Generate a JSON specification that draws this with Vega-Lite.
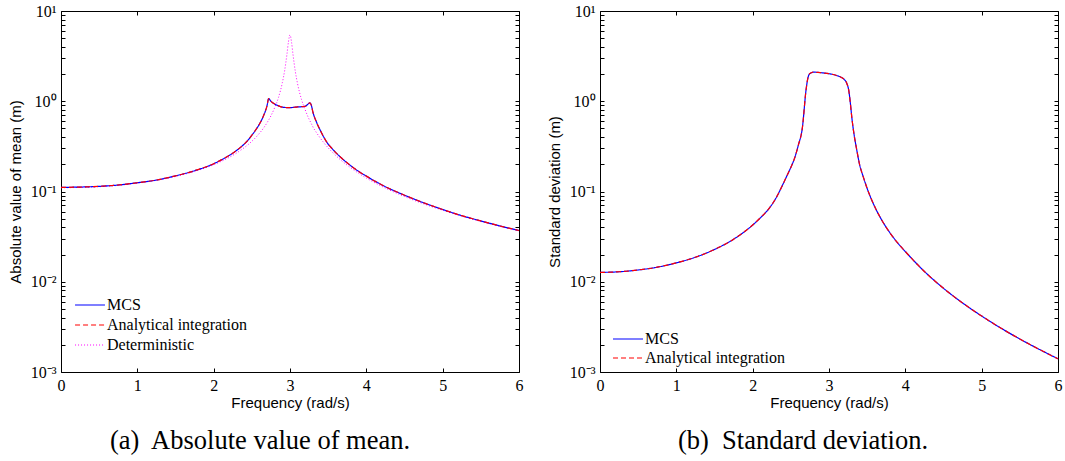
{
  "$schema": "https://vega.github.io/schema/vega-lite/v6.json",
  "padding": {"left": 7, "top": 2, "right": 4, "bottom": 2},
  "background": "white",
  "config": {
    "font": "Liberation Sans",
    "view": {"stroke": "black", "strokeWidth": 1},
    "axis": {
      "domain": false, "grid": false, "tickColor": "black", "tickSize": -4, "tickWidth": 1,
      "labelColor": "black", "labelFont": "Liberation Serif", "labelFontSize": 16,
      "titleColor": "black", "titleFont": "Liberation Sans", "titleFontSize": 15, "titleFontWeight": "normal",
      "labelOverlap": false, "labelFlush": false
    },
    "legend": {
      "orient": "none", "title": null, "symbolStrokeWidth": 1.2,
      "labelFont": "Liberation Serif", "labelFontSize": 16, "labelColor": "black",
      "padding": 0, "rowPadding": 0
    },
    "title": {"font": "Liberation Serif", "fontSize": 26.5, "fontWeight": "normal", "color": "black", "orient": "bottom", "anchor": "middle", "frame": "group"}
  },
  "resolve": {"scale": {"color": "independent", "strokeDash": "independent"}, "legend": {"color": "independent", "strokeDash": "independent"}},
  "datasets": {
    "mean": [
      {"f": 0, "MCS": 0.111, "Analytical integration": 0.111, "Deterministic": 0.110},
      {"f": 0.25, "MCS": 0.112, "Analytical integration": 0.112, "Deterministic": 0.111},
      {"f": 0.5, "MCS": 0.114, "Analytical integration": 0.114, "Deterministic": 0.113},
      {"f": 0.75, "MCS": 0.118, "Analytical integration": 0.118, "Deterministic": 0.117},
      {"f": 1, "MCS": 0.125, "Analytical integration": 0.125, "Deterministic": 0.124},
      {"f": 1.25, "MCS": 0.134, "Analytical integration": 0.134, "Deterministic": 0.133},
      {"f": 1.5, "MCS": 0.149, "Analytical integration": 0.149, "Deterministic": 0.147},
      {"f": 1.75, "MCS": 0.17, "Analytical integration": 0.17, "Deterministic": 0.167},
      {"f": 2, "MCS": 0.203, "Analytical integration": 0.203, "Deterministic": 0.198},
      {"f": 2.1, "MCS": 0.224, "Analytical integration": 0.224, "Deterministic": 0.216},
      {"f": 2.2, "MCS": 0.25, "Analytical integration": 0.25, "Deterministic": 0.238},
      {"f": 2.3, "MCS": 0.285, "Analytical integration": 0.285, "Deterministic": 0.267},
      {"f": 2.4, "MCS": 0.335, "Analytical integration": 0.335, "Deterministic": 0.306},
      {"f": 2.45, "MCS": 0.37, "Analytical integration": 0.37, "Deterministic": 0.33},
      {"f": 2.5, "MCS": 0.42, "Analytical integration": 0.42, "Deterministic": 0.36},
      {"f": 2.55, "MCS": 0.48, "Analytical integration": 0.48, "Deterministic": 0.396},
      {"f": 2.6, "MCS": 0.56, "Analytical integration": 0.56, "Deterministic": 0.442},
      {"f": 2.65, "MCS": 0.68, "Analytical integration": 0.68, "Deterministic": 0.5},
      {"f": 2.7, "MCS": 0.9, "Analytical integration": 0.9, "Deterministic": 0.579},
      {"f": 2.72, "MCS": 1.07, "Analytical integration": 1.07, "Deterministic": 0.618},
      {"f": 2.75, "MCS": 1.0, "Analytical integration": 1.0, "Deterministic": 0.689},
      {"f": 2.8, "MCS": 0.93, "Analytical integration": 0.93, "Deterministic": 0.853},
      {"f": 2.85, "MCS": 0.89, "Analytical integration": 0.89, "Deterministic": 1.107},
      {"f": 2.9, "MCS": 0.86, "Analytical integration": 0.86, "Deterministic": 1.61},
      {"f": 2.93, "MCS": 0.855, "Analytical integration": 0.855, "Deterministic": 2.19},
      {"f": 2.96, "MCS": 0.85, "Analytical integration": 0.85, "Deterministic": 3.32},
      {"f": 2.98, "MCS": 0.85, "Analytical integration": 0.85, "Deterministic": 4.57},
      {"f": 3.0, "MCS": 0.85, "Analytical integration": 0.85, "Deterministic": 5.45},
      {"f": 3.02, "MCS": 0.85, "Analytical integration": 0.85, "Deterministic": 4.52},
      {"f": 3.04, "MCS": 0.855, "Analytical integration": 0.855, "Deterministic": 3.26},
      {"f": 3.07, "MCS": 0.86, "Analytical integration": 0.86, "Deterministic": 2.13},
      {"f": 3.1, "MCS": 0.865, "Analytical integration": 0.865, "Deterministic": 1.55},
      {"f": 3.15, "MCS": 0.87, "Analytical integration": 0.87, "Deterministic": 1.05},
      {"f": 3.2, "MCS": 0.88, "Analytical integration": 0.88, "Deterministic": 0.8},
      {"f": 3.23, "MCS": 0.92, "Analytical integration": 0.92, "Deterministic": 0.69},
      {"f": 3.26, "MCS": 0.96, "Analytical integration": 0.96, "Deterministic": 0.608},
      {"f": 3.28, "MCS": 0.9, "Analytical integration": 0.9, "Deterministic": 0.563},
      {"f": 3.3, "MCS": 0.76, "Analytical integration": 0.76, "Deterministic": 0.52},
      {"f": 3.35, "MCS": 0.58, "Analytical integration": 0.58, "Deterministic": 0.445},
      {"f": 3.4, "MCS": 0.47, "Analytical integration": 0.47, "Deterministic": 0.387},
      {"f": 3.45, "MCS": 0.39, "Analytical integration": 0.39, "Deterministic": 0.341},
      {"f": 3.5, "MCS": 0.335, "Analytical integration": 0.335, "Deterministic": 0.305},
      {"f": 3.55, "MCS": 0.3, "Analytical integration": 0.3, "Deterministic": 0.275},
      {"f": 3.6, "MCS": 0.27, "Analytical integration": 0.27, "Deterministic": 0.25},
      {"f": 3.7, "MCS": 0.225, "Analytical integration": 0.225, "Deterministic": 0.211},
      {"f": 3.8, "MCS": 0.192, "Analytical integration": 0.192, "Deterministic": 0.182},
      {"f": 3.9, "MCS": 0.167, "Analytical integration": 0.167, "Deterministic": 0.159},
      {"f": 4, "MCS": 0.148, "Analytical integration": 0.148, "Deterministic": 0.141},
      {"f": 4.25, "MCS": 0.113, "Analytical integration": 0.113, "Deterministic": 0.109},
      {"f": 4.5, "MCS": 0.091, "Analytical integration": 0.091, "Deterministic": 0.088},
      {"f": 4.75, "MCS": 0.075, "Analytical integration": 0.075, "Deterministic": 0.073},
      {"f": 5, "MCS": 0.0632, "Analytical integration": 0.0632, "Deterministic": 0.062},
      {"f": 5.25, "MCS": 0.054, "Analytical integration": 0.054, "Deterministic": 0.0533},
      {"f": 5.5, "MCS": 0.0472, "Analytical integration": 0.0472, "Deterministic": 0.0466},
      {"f": 5.75, "MCS": 0.0415, "Analytical integration": 0.0415, "Deterministic": 0.0411},
      {"f": 6, "MCS": 0.037, "Analytical integration": 0.037, "Deterministic": 0.0366}
    ],
    "std": [
      {"f": 0, "MCS": 0.0127, "Analytical integration": 0.0127},
      {"f": 0.25, "MCS": 0.0129, "Analytical integration": 0.0129},
      {"f": 0.5, "MCS": 0.0135, "Analytical integration": 0.0135},
      {"f": 0.75, "MCS": 0.0145, "Analytical integration": 0.0145},
      {"f": 1, "MCS": 0.0162, "Analytical integration": 0.0162},
      {"f": 1.25, "MCS": 0.0187, "Analytical integration": 0.0187},
      {"f": 1.5, "MCS": 0.0228, "Analytical integration": 0.0228},
      {"f": 1.75, "MCS": 0.0296, "Analytical integration": 0.0296},
      {"f": 2, "MCS": 0.0425, "Analytical integration": 0.0425},
      {"f": 2.1, "MCS": 0.051, "Analytical integration": 0.051},
      {"f": 2.2, "MCS": 0.0625, "Analytical integration": 0.0625},
      {"f": 2.3, "MCS": 0.083, "Analytical integration": 0.083},
      {"f": 2.4, "MCS": 0.122, "Analytical integration": 0.122},
      {"f": 2.45, "MCS": 0.15, "Analytical integration": 0.15},
      {"f": 2.5, "MCS": 0.185, "Analytical integration": 0.185},
      {"f": 2.55, "MCS": 0.235, "Analytical integration": 0.235},
      {"f": 2.6, "MCS": 0.33, "Analytical integration": 0.33},
      {"f": 2.65, "MCS": 0.5, "Analytical integration": 0.5},
      {"f": 2.7, "MCS": 1.35, "Analytical integration": 1.35},
      {"f": 2.72, "MCS": 1.75, "Analytical integration": 1.75},
      {"f": 2.75, "MCS": 2.03, "Analytical integration": 2.03},
      {"f": 2.8, "MCS": 2.1, "Analytical integration": 2.1},
      {"f": 2.85, "MCS": 2.09, "Analytical integration": 2.09},
      {"f": 2.9, "MCS": 2.07, "Analytical integration": 2.07},
      {"f": 3.0, "MCS": 2.02, "Analytical integration": 2.02},
      {"f": 3.1, "MCS": 1.93, "Analytical integration": 1.93},
      {"f": 3.15, "MCS": 1.86, "Analytical integration": 1.86},
      {"f": 3.2, "MCS": 1.74, "Analytical integration": 1.74},
      {"f": 3.23, "MCS": 1.6, "Analytical integration": 1.6},
      {"f": 3.26, "MCS": 1.3, "Analytical integration": 1.3},
      {"f": 3.28, "MCS": 0.95, "Analytical integration": 0.95},
      {"f": 3.3, "MCS": 0.65, "Analytical integration": 0.65},
      {"f": 3.33, "MCS": 0.42, "Analytical integration": 0.42},
      {"f": 3.36, "MCS": 0.3, "Analytical integration": 0.3},
      {"f": 3.4, "MCS": 0.2, "Analytical integration": 0.2},
      {"f": 3.45, "MCS": 0.1445, "Analytical integration": 0.1445},
      {"f": 3.5, "MCS": 0.108, "Analytical integration": 0.108},
      {"f": 3.55, "MCS": 0.0841, "Analytical integration": 0.0841},
      {"f": 3.6, "MCS": 0.0676, "Analytical integration": 0.0676},
      {"f": 3.7, "MCS": 0.0468, "Analytical integration": 0.0468},
      {"f": 3.8, "MCS": 0.0347, "Analytical integration": 0.0347},
      {"f": 3.9, "MCS": 0.0269, "Analytical integration": 0.0269},
      {"f": 4, "MCS": 0.0216, "Analytical integration": 0.0216},
      {"f": 4.25, "MCS": 0.013, "Analytical integration": 0.013},
      {"f": 4.5, "MCS": 0.00846, "Analytical integration": 0.00846},
      {"f": 4.75, "MCS": 0.00582, "Analytical integration": 0.00582},
      {"f": 5, "MCS": 0.00417, "Analytical integration": 0.00417},
      {"f": 5.25, "MCS": 0.00307, "Analytical integration": 0.00307},
      {"f": 5.5, "MCS": 0.00232, "Analytical integration": 0.00232},
      {"f": 5.75, "MCS": 0.00179, "Analytical integration": 0.00179},
      {"f": 6, "MCS": 0.0014, "Analytical integration": 0.0014}
    ]
  },
  "spacing": 81,
  "bounds": "flush",
  "hconcat": [
    {
      "width": 458,
      "height": 361,
      "data": {"name": "mean"},
      "title": {"text": "(a)\u00a0 Absolute value of mean.", "offset": 18, "dx": -30},
      "transform": [{"fold": ["MCS", "Analytical integration", "Deterministic"]}],
      "resolve": {"axis": {"x": "independent", "y": "independent"}},
      "layer": [
        {
          "transform": [{"filter": "datum.key === 'Deterministic'"}],
          "mark": {"type": "line", "strokeWidth": 1, "interpolate": "monotone"},
          "encoding": {
            "x": {"field": "f", "type": "quantitative", "scale": {"domain": [0, 6], "nice": false},
                  "axis": {"values": [0, 1, 2, 3, 4, 5, 6], "title": "Frequency (rad/s)", "labelPadding": 9, "titlePadding": 2}},
            "y": {"field": "value", "type": "quantitative", "scale": {"type": "log", "domain": [0.001, 10], "nice": false},
                  "axis": {"values": [0.001,0.002,0.003,0.004,0.005,0.006,0.007,0.008,0.009,0.01,0.02,0.03,0.04,0.05,0.06,0.07,0.08,0.09,0.1,0.2,0.3,0.4,0.5,0.6,0.7,0.8,0.9,1,2,3,4,5,6,7,8,9,10],
                           "labelExpr": "datum.value == 10 ? '10¹' : datum.value == 1 ? '10⁰' : datum.value == 0.1 ? '10⁻¹' : datum.value == 0.01 ? '10⁻²' : datum.value == 0.001 ? '10⁻³' : ''",
                           "title": "Absolute value of mean (m)", "labelPadding": 9, "titlePadding": 7}},
            "color": {"field": "key", "type": "nominal",
                      "scale": {"domain": ["MCS", "Analytical integration", "Deterministic"], "range": ["#0000ff", "#ff0000", "#ff00ff"]},
                      "legend": {"legendX": 17, "legendY": 282, "symbolType": "M-1.36,0H1.36", "symbolSize": 484, "labelOffset": 5}},
            "strokeDash": {"field": "key", "type": "nominal",
                      "scale": {"domain": ["MCS", "Analytical integration", "Deterministic"], "range": [[1, 0], [5, 3], [1, 2]]},
                      "legend": {"legendX": 17, "legendY": 282, "symbolType": "M-1.36,0H1.36", "symbolSize": 484, "labelOffset": 5}}
          }
        },
        {
          "transform": [{"filter": "datum.key === 'MCS'"}],
          "mark": {"type": "line", "strokeWidth": 1.2, "interpolate": "monotone"},
          "encoding": {
            "x": {"field": "f", "type": "quantitative", "axis": {"orient": "top", "values": [0, 1, 2, 3, 4, 5, 6], "labels": false, "title": null}},
            "y": {"field": "value", "type": "quantitative",
                  "axis": {"orient": "right", "values": [0.001,0.002,0.003,0.004,0.005,0.006,0.007,0.008,0.009,0.01,0.02,0.03,0.04,0.05,0.06,0.07,0.08,0.09,0.1,0.2,0.3,0.4,0.5,0.6,0.7,0.8,0.9,1,2,3,4,5,6,7,8,9,10], "labels": false, "title": null}},
            "color": {"field": "key", "type": "nominal"},
            "strokeDash": {"field": "key", "type": "nominal"}
          }
        },
        {
          "transform": [{"filter": "datum.key === 'Analytical integration'"}],
          "mark": {"type": "line", "strokeWidth": 1.2, "interpolate": "monotone"},
          "encoding": {
            "x": {"field": "f", "type": "quantitative", "axis": null},
            "y": {"field": "value", "type": "quantitative", "axis": null},
            "color": {"field": "key", "type": "nominal"},
            "strokeDash": {"field": "key", "type": "nominal"}
          }
        }
      ]
    },
    {
      "width": 458,
      "height": 361,
      "data": {"name": "std"},
      "title": {"text": "(b)\u00a0 Standard deviation.", "offset": 18, "dx": -26},
      "transform": [{"fold": ["MCS", "Analytical integration"]}],
      "resolve": {"axis": {"x": "independent", "y": "independent"}},
      "layer": [
        {
          "transform": [{"filter": "datum.key === 'MCS'"}],
          "mark": {"type": "line", "strokeWidth": 1.2, "interpolate": "monotone"},
          "encoding": {
            "x": {"field": "f", "type": "quantitative", "scale": {"domain": [0, 6], "nice": false},
                  "axis": {"values": [0, 1, 2, 3, 4, 5, 6], "title": "Frequency (rad/s)", "labelPadding": 9, "titlePadding": 2}},
            "y": {"field": "value", "type": "quantitative", "scale": {"type": "log", "domain": [0.001, 10], "nice": false},
                  "axis": {"values": [0.001,0.002,0.003,0.004,0.005,0.006,0.007,0.008,0.009,0.01,0.02,0.03,0.04,0.05,0.06,0.07,0.08,0.09,0.1,0.2,0.3,0.4,0.5,0.6,0.7,0.8,0.9,1,2,3,4,5,6,7,8,9,10],
                           "labelExpr": "datum.value == 10 ? '10¹' : datum.value == 1 ? '10⁰' : datum.value == 0.1 ? '10⁻¹' : datum.value == 0.01 ? '10⁻²' : datum.value == 0.001 ? '10⁻³' : ''",
                           "title": "Standard deviation (m)", "labelPadding": 9, "titlePadding": 7}},
            "color": {"field": "key", "type": "nominal",
                      "scale": {"domain": ["MCS", "Analytical integration"], "range": ["#0000ff", "#ff0000"]},
                      "legend": {"legendX": 17, "legendY": 317, "symbolType": "M-1.5,0H1.5", "symbolSize": 400, "labelOffset": 6}},
            "strokeDash": {"field": "key", "type": "nominal",
                      "scale": {"domain": ["MCS", "Analytical integration"], "range": [[1, 0], [5, 3]]},
                      "legend": {"legendX": 17, "legendY": 317, "symbolType": "M-1.5,0H1.5", "symbolSize": 400, "labelOffset": 6}}
          }
        },
        {
          "transform": [{"filter": "datum.key === 'Analytical integration'"}],
          "mark": {"type": "line", "strokeWidth": 1.2, "interpolate": "monotone"},
          "encoding": {
            "x": {"field": "f", "type": "quantitative", "axis": {"orient": "top", "values": [0, 1, 2, 3, 4, 5, 6], "labels": false, "title": null}},
            "y": {"field": "value", "type": "quantitative",
                  "axis": {"orient": "right", "values": [0.001,0.002,0.003,0.004,0.005,0.006,0.007,0.008,0.009,0.01,0.02,0.03,0.04,0.05,0.06,0.07,0.08,0.09,0.1,0.2,0.3,0.4,0.5,0.6,0.7,0.8,0.9,1,2,3,4,5,6,7,8,9,10], "labels": false, "title": null}},
            "color": {"field": "key", "type": "nominal"},
            "strokeDash": {"field": "key", "type": "nominal"}
          }
        }
      ]
    }
  ]
}
